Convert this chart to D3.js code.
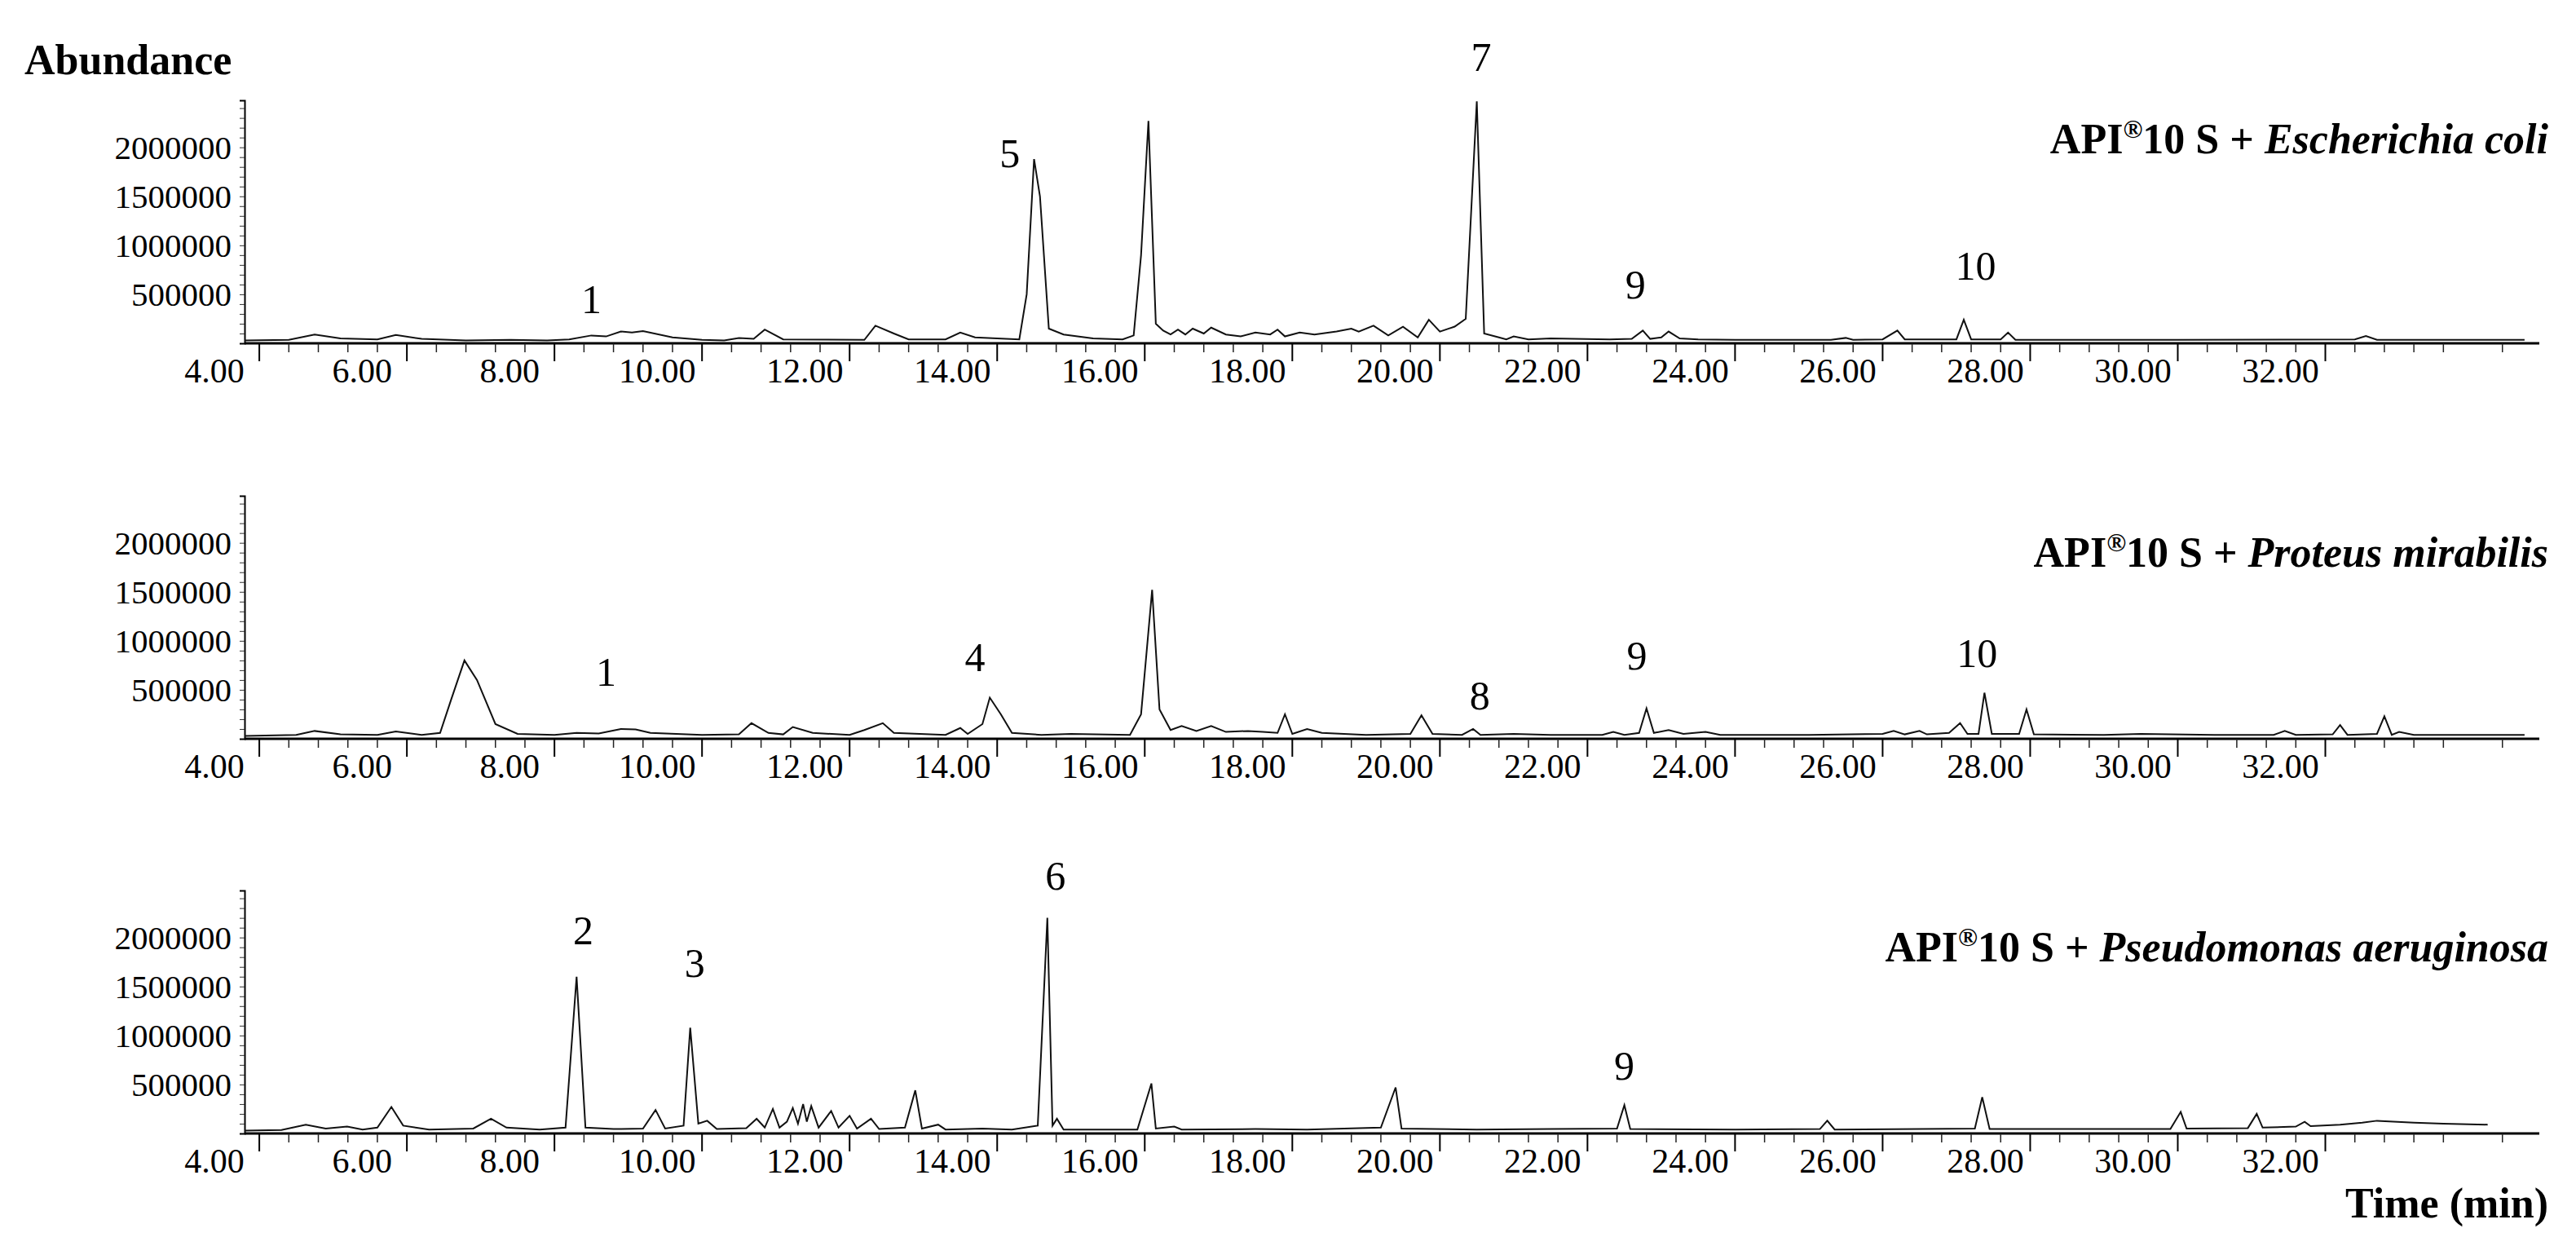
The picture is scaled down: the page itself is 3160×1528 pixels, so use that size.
<!DOCTYPE html>
<html><head><meta charset="utf-8">
<script src="https://cdn.jsdelivr.net/npm/d3@7"></script>
<style>body{margin:0;background:#fff}svg{display:block}text{font-family:"Liberation Serif","DejaVu Serif",serif}</style>
</head><body><svg id="c" width="3160" height="1528"></svg>
<script>
const xTickLabels=["4.00","6.00","8.00","10.00","12.00","14.00","16.00","18.00","20.00","22.00","24.00","26.00","28.00","30.00","32.00"];
const yTickLabels=[500000,1000000,1500000,2000000];
const panelTitles=[["Escherichia coli"],["Proteus mirabilis"],["Pseudomonas aeruginosa"]];
const ecoli=[[3.8,30e3],[4.4,35e3],[4.75,90e3],[5.1,50e3],[5.6,40e3],[5.85,85e3],[6.2,45e3],[6.8,30e3],[7.4,35e3],[7.9,30e3],[8.2,40e3],[8.5,80e3],[8.7,70e3],[8.9,120e3],[9.05,110e3],[9.2,125e3],[9.6,60e3],[10.0,35e3],[10.3,30e3],[10.5,55e3],[10.7,45e3],[10.85,140e3],[11.1,40e3],[12.2,35e3],[12.35,180e3],[12.6,100e3],[12.8,40e3],[13.3,40e3],[13.5,110e3],[13.7,60e3],[14.0,50e3],[14.3,40e3],[14.4,500e3],[14.5,1880e3],[14.58,1500e3],[14.7,150e3],[14.9,90e3],[15.3,50e3],[15.7,40e3],[15.85,80e3],[15.95,900e3],[16.05,2270e3],[16.15,200e3],[16.25,130e3],[16.35,90e3],[16.45,140e3],[16.55,90e3],[16.65,150e3],[16.8,100e3],[16.9,160e3],[17.1,90e3],[17.3,70e3],[17.5,110e3],[17.7,90e3],[17.8,140e3],[17.9,70e3],[18.1,110e3],[18.3,90e3],[18.6,120e3],[18.8,150e3],[18.9,120e3],[19.1,180e3],[19.3,80e3],[19.5,170e3],[19.7,60e3],[19.85,240e3],[20.0,120e3],[20.2,170e3],[20.35,250e3],[20.5,2470e3],[20.6,100e3],[20.8,60e3],[20.9,40e3],[21.0,70e3],[21.2,40e3],[21.5,50e3],[22.3,40e3],[22.6,45e3],[22.75,130e3],[22.85,45e3],[23.0,60e3],[23.1,120e3],[23.25,50e3],[23.5,40e3],[24.0,35e3],[25.3,35e3],[25.5,55e3],[25.6,35e3],[26.0,40e3],[26.2,130e3],[26.3,40e3],[27.0,40e3],[27.1,240e3],[27.2,40e3],[27.6,40e3],[27.7,110e3],[27.8,35e3],[30.0,35e3],[32.4,40e3],[32.55,75e3],[32.7,35e3],[34.7,35e3]];
const proteus=[[3.8,30e3],[4.5,40e3],[4.75,80e3],[5.1,45e3],[5.6,40e3],[5.85,75e3],[6.2,40e3],[6.45,60e3],[6.6,400e3],[6.78,800e3],[6.95,600e3],[7.2,150e3],[7.5,50e3],[8.0,40e3],[8.3,60e3],[8.6,55e3],[8.9,100e3],[9.1,95e3],[9.3,60e3],[10.0,40e3],[10.5,45e3],[10.67,160e3],[10.9,60e3],[11.1,45e3],[11.23,120e3],[11.5,60e3],[12.0,40e3],[12.2,90e3],[12.45,160e3],[12.6,60e3],[13.3,40e3],[13.5,110e3],[13.6,50e3],[13.8,150e3],[13.9,420e3],[14.05,250e3],[14.2,60e3],[14.6,40e3],[15.0,50e3],[15.8,40e3],[15.95,250e3],[16.1,1520e3],[16.2,300e3],[16.35,90e3],[16.5,130e3],[16.7,80e3],[16.9,130e3],[17.1,70e3],[17.4,80e3],[17.6,70e3],[17.8,60e3],[17.9,250e3],[18.0,50e3],[18.2,100e3],[18.4,60e3],[19.0,40e3],[19.6,50e3],[19.75,240e3],[19.9,50e3],[20.3,40e3],[20.45,100e3],[20.55,40e3],[21.0,50e3],[21.5,40e3],[22.2,40e3],[22.35,70e3],[22.5,40e3],[22.7,60e3],[22.8,310e3],[22.9,60e3],[23.1,90e3],[23.3,50e3],[23.6,70e3],[23.8,40e3],[25.0,40e3],[26.0,50e3],[26.15,80e3],[26.3,45e3],[26.5,80e3],[26.6,45e3],[26.9,60e3],[27.05,160e3],[27.15,50e3],[27.3,50e3],[27.38,470e3],[27.48,50e3],[27.85,50e3],[27.95,300e3],[28.05,45e3],[29.0,40e3],[29.5,50e3],[30.5,40e3],[31.3,40e3],[31.45,80e3],[31.6,40e3],[32.1,45e3],[32.2,140e3],[32.3,40e3],[32.7,50e3],[32.8,230e3],[32.9,40e3],[33.0,70e3],[33.2,40e3],[34.7,40e3]];
const pseudo=[[3.8,30e3],[4.3,35e3],[4.63,90e3],[4.9,50e3],[5.19,70e3],[5.4,40e3],[5.6,60e3],[5.79,270e3],[5.95,80e3],[6.3,40e3],[6.9,50e3],[7.14,150e3],[7.35,60e3],[7.8,40e3],[8.15,60e3],[8.3,1600e3],[8.42,60e3],[8.8,45e3],[9.2,50e3],[9.37,240e3],[9.5,50e3],[9.75,80e3],[9.84,1080e3],[9.95,100e3],[10.07,130e3],[10.2,45e3],[10.6,55e3],[10.74,150e3],[10.85,60e3],[10.96,250e3],[11.05,60e3],[11.15,120e3],[11.23,260e3],[11.3,100e3],[11.37,300e3],[11.42,120e3],[11.48,280e3],[11.58,60e3],[11.75,230e3],[11.85,60e3],[12.0,180e3],[12.1,50e3],[12.29,150e3],[12.4,45e3],[12.75,60e3],[12.89,440e3],[12.98,50e3],[13.2,90e3],[13.3,40e3],[13.8,50e3],[14.2,40e3],[14.55,80e3],[14.68,2200e3],[14.75,80e3],[14.81,150e3],[14.9,40e3],[15.9,40e3],[16.09,510e3],[16.15,50e3],[16.4,70e3],[16.5,40e3],[17.5,45e3],[18.2,40e3],[19.2,60e3],[19.4,470e3],[19.48,50e3],[20.5,40e3],[21.5,45e3],[22.4,50e3],[22.5,290e3],[22.58,45e3],[24.0,40e3],[25.15,45e3],[25.25,130e3],[25.35,40e3],[26.5,45e3],[27.25,50e3],[27.35,370e3],[27.45,45e3],[29.9,45e3],[30.04,220e3],[30.12,50e3],[30.95,55e3],[31.07,200e3],[31.15,60e3],[31.6,70e3],[31.72,120e3],[31.8,75e3],[32.2,90e3],[32.5,110e3],[32.7,130e3],[33.2,110e3],[33.6,100e3],[34.2,90e3]];
const ecoliPeaks=[["1",8.5,450e3],["5",14.17,1940e3],["7",20.56,2920e3],["9",22.65,600e3],["10",27.26,790e3]];
const proteusPeaks=[["1",8.7,680e3],["4",13.7,830e3],["8",20.54,440e3],["9",22.67,850e3],["10",27.28,870e3]];
const pseudoPeaks=[["2",8.39,2070e3],["3",9.9,1740e3],["6",14.79,2630e3],["9",22.5,690e3]];

const svg=d3.select("#c");
const x=d3.scaleLinear().domain([3.8,34.9]).range([300,3115]);
const panels=[{base:421,data:ecoli,peaks:ecoliPeaks,t:0,ty:188},{base:906,data:proteus,peaks:proteusPeaks,t:1,ty:695},{base:1390,data:pseudo,peaks:pseudoPeaks,t:2,ty:1179}];
const majors=d3.range(4,33,2);
const minors=d3.range(4,34.7,0.4).filter(v=>Math.abs(v/2-Math.round(v/2))>0.01);
panels.forEach(p=>{
  const y=d3.scaleLinear().domain([0,2.48e6]).range([p.base,p.base-298]);
  const g=svg.append("g");
  const ya=d3.axisLeft(y).tickValues(d3.range(1e5,2.45e6,1e5)).tickSize(6).tickFormat("");
  g.append("g").attr("transform","translate(300,0)").call(ya).call(s=>{s.select(".domain").attr("stroke","#000").attr("stroke-width",2);s.selectAll("line").attr("stroke","#333");});
  g.selectAll(".yl").data(yTickLabels).join("text").attr("x",284).attr("y",d=>y(d)+14).attr("text-anchor","end").attr("font-size",41).text(d=>d);
  g.append("line").attr("x1",300).attr("x2",3115).attr("y1",p.base).attr("y2",p.base).attr("stroke","#000").attr("stroke-width",3);
  g.selectAll(".mn").data(minors).join("line").attr("x1",d=>x(d)).attr("x2",d=>x(d)).attr("y1",p.base).attr("y2",p.base+11).attr("stroke","#222").attr("stroke-width",1.5);
  g.selectAll(".mj").data(majors).join("line").attr("x1",d=>x(d)).attr("x2",d=>x(d)).attr("y1",p.base).attr("y2",p.base+22).attr("stroke","#000").attr("stroke-width",2);
  g.selectAll(".xl").data(xTickLabels).join("text").attr("x",(d,i)=>x(majors[i])-55).attr("y",p.base+48).attr("text-anchor","middle").attr("font-size",42).text(d=>d);
  g.append("path").datum(p.data).attr("fill","none").attr("stroke","#111").attr("stroke-width",2)
    .attr("d",d3.line().x(d=>x(d[0])).y(d=>y(d[1])));
  g.selectAll(".pk").data(p.peaks).join("text").attr("x",d=>x(d[1])).attr("y",d=>y(d[2])+17).attr("text-anchor","middle").attr("font-size",50).text(d=>d[0]);
  const t=g.append("text").attr("x",3126).attr("y",p.ty).attr("text-anchor","end").attr("font-size",52).attr("font-weight","bold");
  t.append("tspan").text("API");
  t.append("tspan").attr("font-size",32).attr("dy",-19).text("®");
  t.append("tspan").attr("dy",19).text("10 S + ");
  t.append("tspan").attr("font-style","italic").text(panelTitles[p.t][0]);
});
svg.append("text").attr("x",30).attr("y",91).attr("font-size",52).attr("font-weight","bold").text("Abundance");
svg.append("text").attr("x",3126).attr("y",1493).attr("text-anchor","end").attr("font-size",52).attr("font-weight","bold").text("Time (min)");
</script></body></html>
